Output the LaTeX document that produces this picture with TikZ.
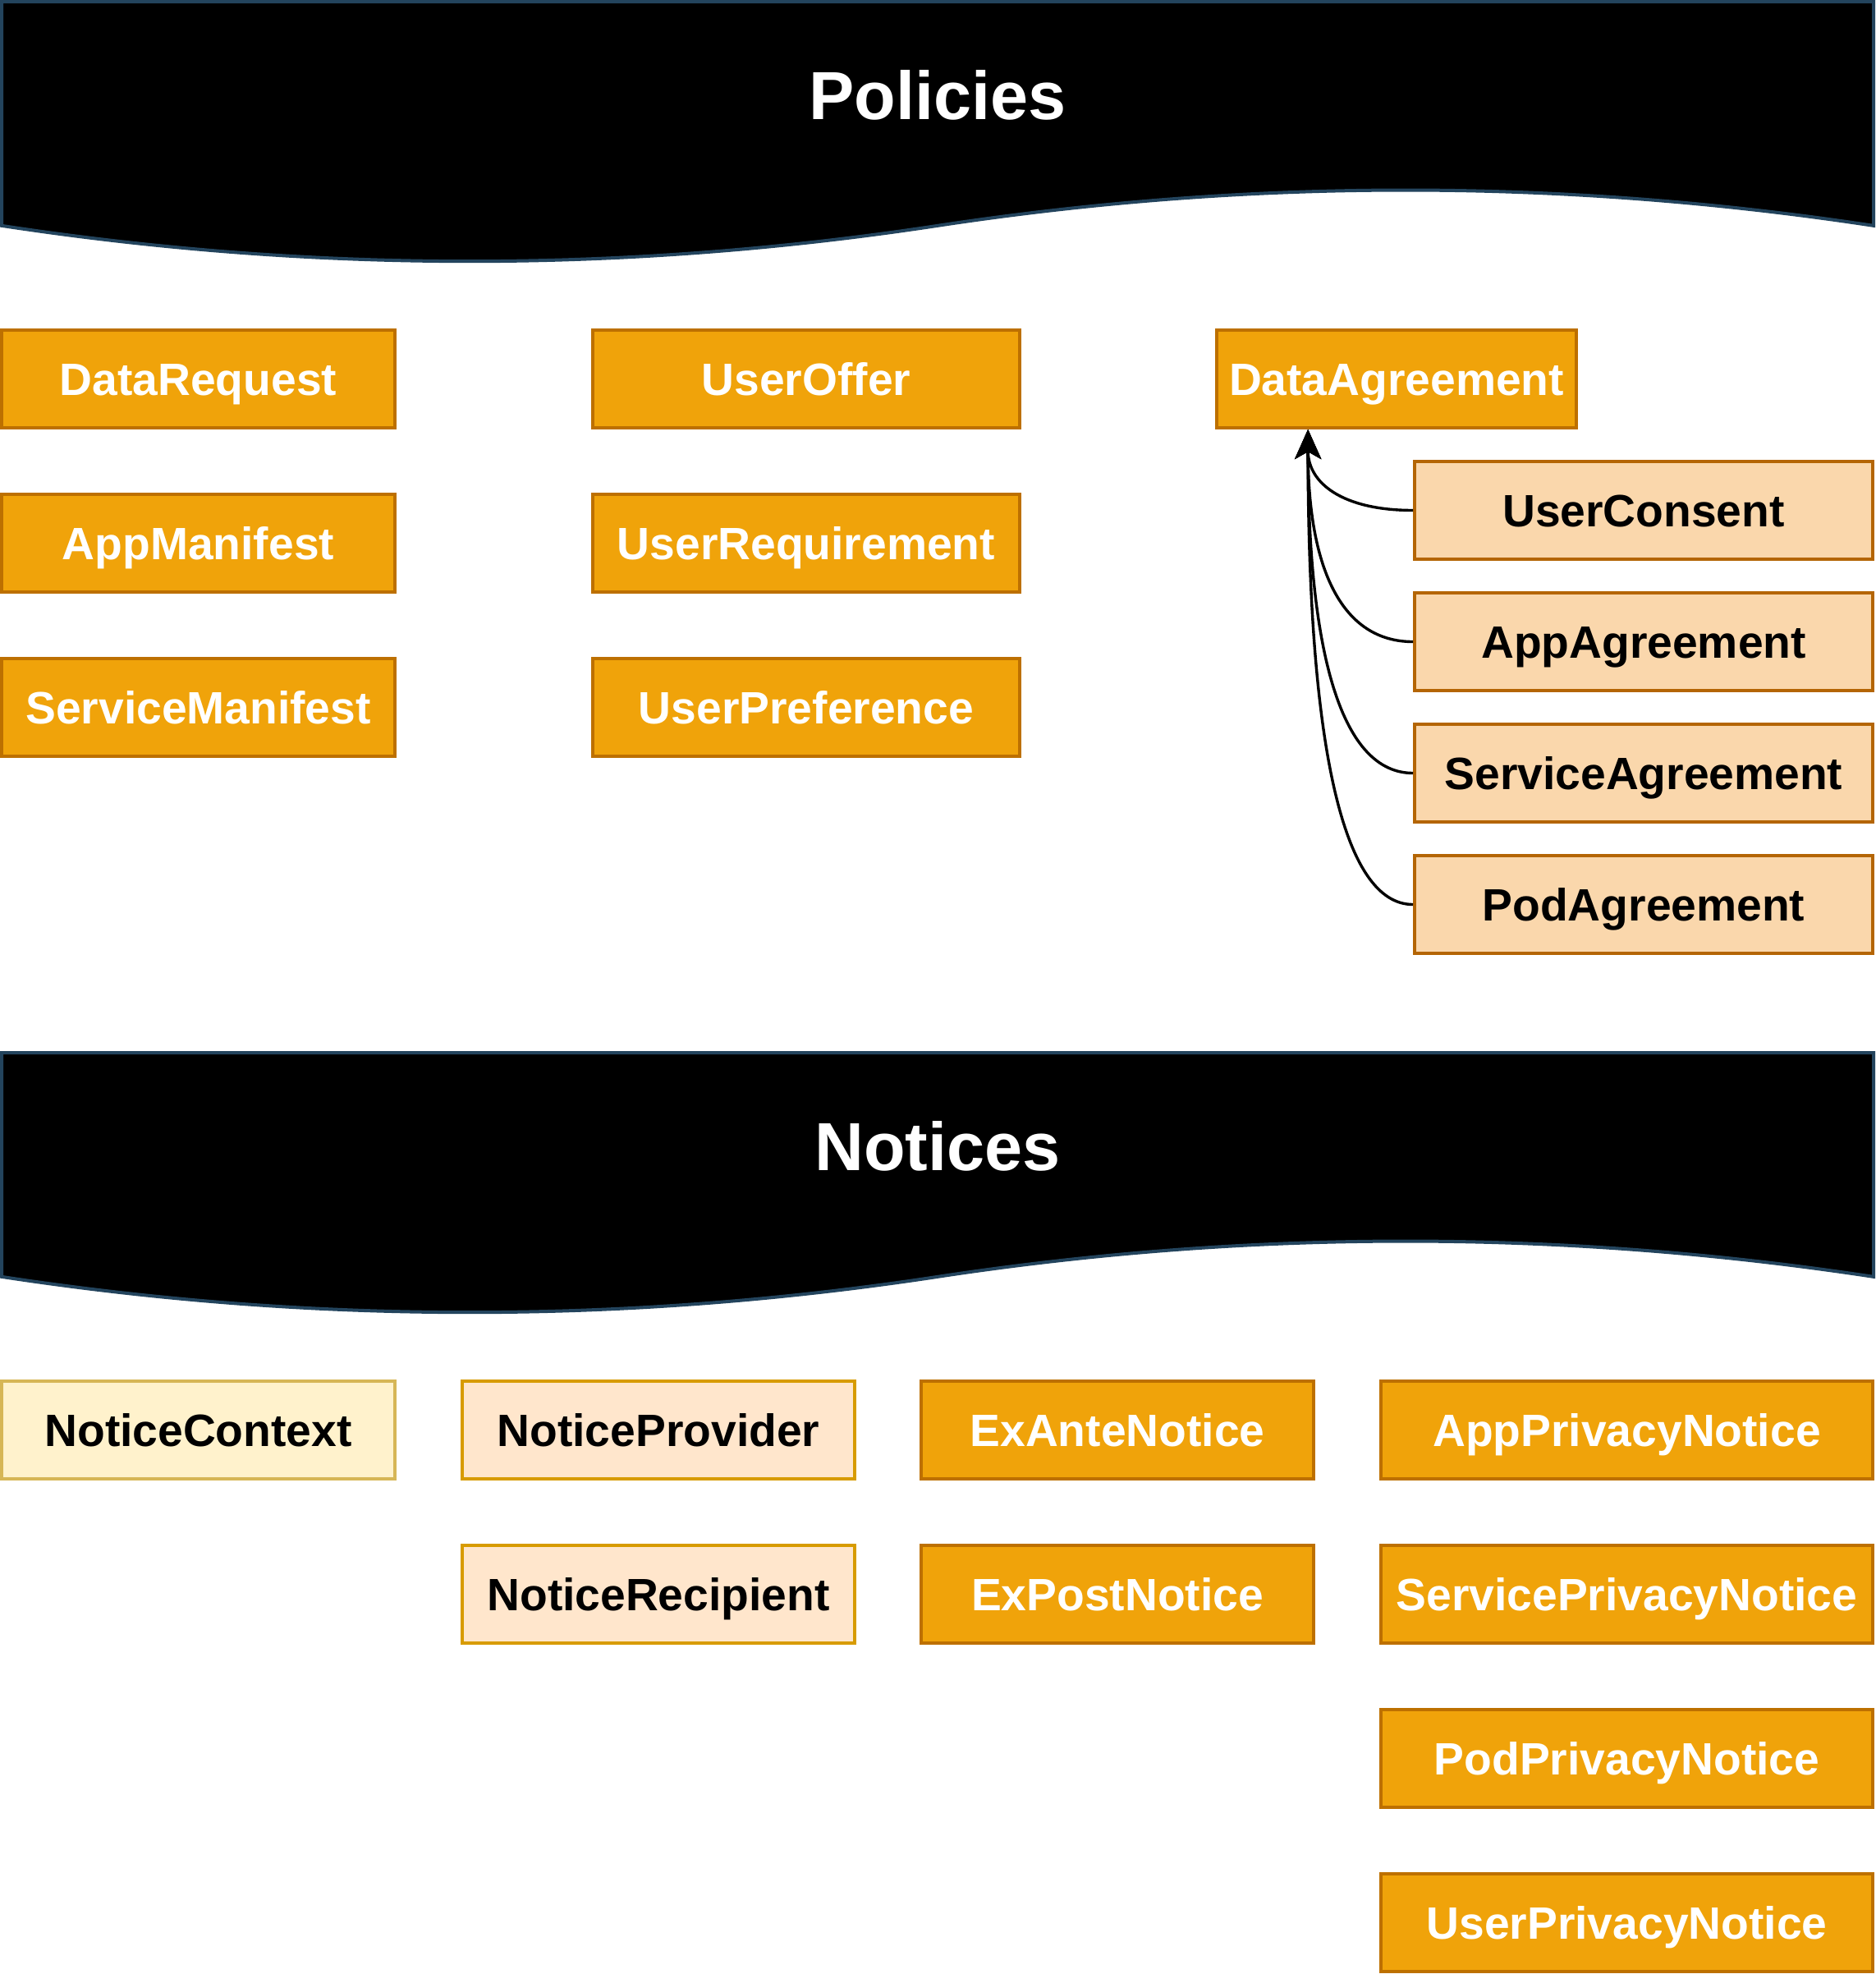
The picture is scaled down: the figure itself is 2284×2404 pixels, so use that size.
\documentclass[tikz,border=0pt]{standalone}
\usepackage{fontspec}
\setmainfont{Liberation Sans}
\usetikzlibrary{arrows.meta,calc}
\definecolor{orfill}{HTML}{F0A30A}
\definecolor{orline}{HTML}{BD7000}
\definecolor{ltfill}{HTML}{FAD7AC}
\definecolor{ltline}{HTML}{B46504}
\definecolor{ylfill}{HTML}{FFF2CC}
\definecolor{ylline}{HTML}{D6B656}
\definecolor{pcfill}{HTML}{FFE6CC}
\definecolor{pcline}{HTML}{D79B00}
\definecolor{bannerline}{HTML}{23445D}
\begin{document}
\begin{tikzpicture}[x=1pt,y=-1pt,
  box/.style={rectangle, draw, line width=4pt, inner sep=0pt, minimum height=119pt,
    text height=39.5pt, text depth=0pt, font=\fontsize{55.2}{60}\selectfont\bfseries},
  darkbox/.style={box, fill=orfill, draw=orline, text=white},
  lightbox/.style={box, fill=ltfill, draw=ltline, text=black},
  ctxbox/.style={box, fill=ylfill, draw=ylline, text=black},
  partybox/.style={box, fill=pcfill, draw=pcline, text=black},
  banner/.style={fill=black, draw=bannerline, line width=4pt, line join=miter},
  bannertitle/.style={inner sep=0pt, text=white, text height=59.3pt, text depth=0pt,
    font=\fontsize{82.8}{90}\selectfont\bfseries},
  conn/.style={draw=black, line width=3.4pt, -{Stealth[length=36pt,width=32pt,inset=9pt]}}
]
\useasboundingbox (0,0) rectangle (2284,2404);

% Policies banner
\path[banner] (2,2) -- (2282,2) -- (2282,274.85)
  .. controls (1902,217.07) and (1522,217.07) .. (1142,274.85)
  .. controls (762,332.63) and (382,332.63) .. (2,274.85) -- cycle;
\node[bannertitle] (ptitle) at (1142,116) {Policies};

% Notices banner
\path[banner] (2,1282) -- (2282,1282) -- (2282,1554.85)
  .. controls (1902,1497.07) and (1522,1497.07) .. (1142,1554.85)
  .. controls (762,1612.63) and (382,1612.63) .. (2,1554.85) -- cycle;
\node[bannertitle] (ntitle) at (1142,1396) {Notices};

% Policies boxes
\node[darkbox, minimum width=479pt] (dr) at (241.5,461.5) {DataRequest};
\node[darkbox, minimum width=479pt] (am) at (241.5,661.5) {AppManifest};
\node[darkbox, minimum width=479pt] (sm) at (241.5,861.5) {ServiceManifest};
\node[darkbox, minimum width=520pt] (uo) at (982,461.5) {UserOffer};
\node[darkbox, minimum width=520pt] (ur) at (982,661.5) {UserRequirement};
\node[darkbox, minimum width=520pt] (up) at (982,861.5) {UserPreference};
\node[darkbox, minimum width=438pt] (da) at (1701,461.5) {DataAgreement};
\node[lightbox, minimum width=558pt] (uc) at (2002,621.5) {UserConsent};
\node[lightbox, minimum width=558pt] (aa) at (2002,781.5) {AppAgreement};
\node[lightbox, minimum width=558pt] (sa) at (2002,941.5) {ServiceAgreement};
\node[lightbox, minimum width=558pt] (pa) at (2002,1101.5) {PodAgreement};

\coordinate (datip) at ($(da.south west)!0.256!(da.south east)$);
\draw[conn] (uc.west) .. controls +(-85.3,0) and +(0,65.7) .. (datip);
\draw[conn] (aa.west) .. controls +(-85.3,0) and +(0,172.3) .. (datip);
\draw[conn] (sa.west) .. controls +(-85.3,0) and +(0,279) .. (datip);
\draw[conn] (pa.west) .. controls +(-85.3,0) and +(0,385.7) .. (datip);

% Notices boxes
\node[ctxbox, minimum width=479pt] (nc) at (241.5,1741.5) {NoticeContext};
\node[partybox, minimum width=478pt] (np) at (802,1741.5) {NoticeProvider};
\node[partybox, minimum width=478pt] (nr) at (802,1941.5) {NoticeRecipient};
\node[darkbox, minimum width=478pt] (ea) at (1361,1741.5) {ExAnteNotice};
\node[darkbox, minimum width=478pt] (ep) at (1361,1941.5) {ExPostNotice};
\node[darkbox, minimum width=599pt] (apn) at (1981.5,1741.5) {AppPrivacyNotice};
\node[darkbox, minimum width=599pt] (spn) at (1981.5,1941.5) {ServicePrivacyNotice};
\node[darkbox, minimum width=599pt] (ppn) at (1981.5,2141.5) {PodPrivacyNotice};
\node[darkbox, minimum width=599pt] (upn) at (1981.5,2341.5) {UserPrivacyNotice};
\end{tikzpicture}
\end{document}
